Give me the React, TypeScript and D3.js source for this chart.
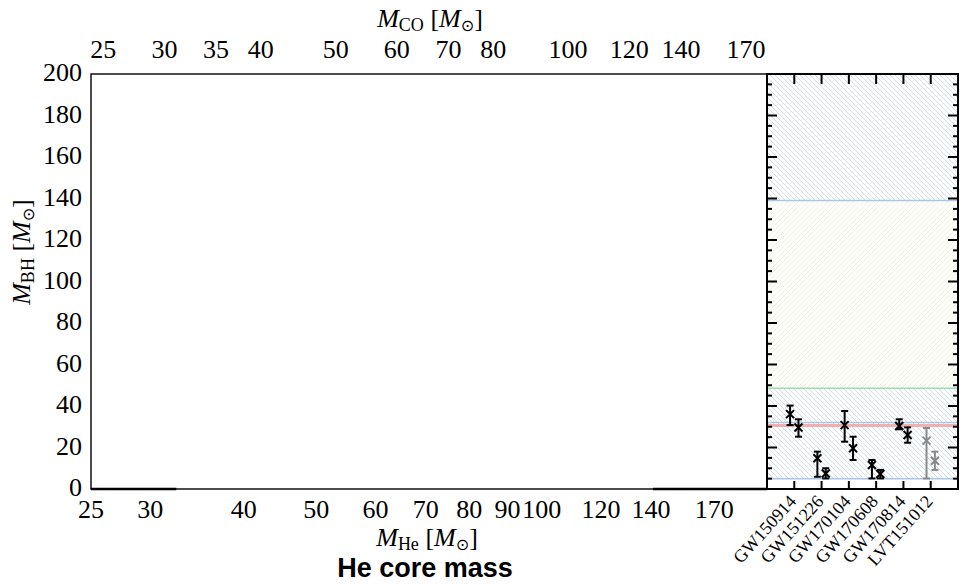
import React from "react";
import * as d3 from "d3";

const heTicks = [25, 30, 40, 50, 60, 70, 80, 90, 100, 120, 140, 170];
const coTicks = [25, 30, 35, 40, 50, 60, 70, 80, 100, 120, 140, 170];
const yTicks = [0, 20, 40, 60, 80, 100, 120, 140, 160, 180, 200];
const yMinor = d3.range(0, 201, 5);

const events = ["GW150914", "GW151226", "GW170104", "GW170608", "GW170814", "LVT151012"];
const m1 = [36.1, 14.8, 30.8, 11.6, 30.4, 23.3];
const m1Hi = [40.2, 18.0, 37.6, 14.0, 33.6, 29.4];
const m1Lo = [30.8, 5.9, 22.8, 5.1, 28.8, 5.1];
const m2 = [29.6, 7.5, 19.6, 7.2, 26.0, 13.6];
const m2Hi = [33.6, 10.0, 25.2, 9.2, 29.7, 18.0];
const m2Lo = [25.2, 5.1, 14.0, 5.1, 22.3, 9.2];
const eventColor = ["#000", "#000", "#000", "#000", "#000", "#8a8a8a"];

// horizontal limit lines in the event panel
const limitValues = [139, 48.5, 32, 30.6, 5];
const limitColors = ["#a9c6e8", "#9ddcab", "#a9c6e8", "#f4aeae", "#a9c6e8"];
const limitWidths = [1.5, 1.5, 1.5, 3, 1.5];

// hatched bands [low, high]
const bandLo = [139, 48.5, 5];
const bandHi = [200, 139, 48.5];
const bandPattern = ["hatchBlue", "hatchYellow", "hatchBlue"];

// zero-mass segments in main panel (M_He ranges)
const zeroSegs = [[25, 32.5], [140.8, 200]];

const serif = "'Liberation Serif', 'Times New Roman', serif";

function MathLabel({ sub }: { sub: string }) {
  return (
    <>
      <tspan fontStyle="italic">M</tspan>
      <tspan fontSize={18} dy={4}>{sub}</tspan>
      <tspan dy={-4}> [</tspan>
      <tspan fontStyle="italic">M</tspan>
      <tspan fontSize={16} dy={4} fontFamily="'DejaVu Sans', sans-serif">⊙</tspan>
      <tspan dy={-4}>]</tspan>
    </>
  );
}

export default function App() {
  const L = 91, R = 767, T = 74, B = 489, R2 = 958;
  const xHe = d3.scaleLog().domain([25, 200]).range([L, R]);
  const xCO = d3.scaleLog().domain([24.1, 181]).range([L, R]);
  const y = d3.scaleLinear().domain([0, 200]).range([B, T]);
  const xEv = d3.scaleLinear().domain([0, 7]).range([R, R2]);
  const off = 4.2 / (xEv(1) - xEv(0));

  const marks: any[] = [];
  events.forEach((e, i) => {
    const pts = [
      { x: xEv(i + 1 - off), v: m1[i], hi: m1Hi[i], lo: m1Lo[i] },
      { x: xEv(i + 1 + off), v: m2[i], hi: m2Hi[i], lo: m2Lo[i] },
    ];
    pts.forEach((p, j) => {
      const c = eventColor[i];
      const yv = y(p.v);
      marks.push(
        <g key={`${i}-${j}`} stroke={c} strokeWidth={2}>
          <line x1={p.x} x2={p.x} y1={y(p.hi)} y2={y(p.lo)} />
          <line x1={p.x - 3.5} x2={p.x + 3.5} y1={y(p.hi)} y2={y(p.hi)} />
          <line x1={p.x - 3.5} x2={p.x + 3.5} y1={y(p.lo)} y2={y(p.lo)} />
          <line x1={p.x - 4} x2={p.x + 4} y1={yv - 4} y2={yv + 4} />
          <line x1={p.x - 4} x2={p.x + 4} y1={yv + 4} y2={yv - 4} />
        </g>
      );
    });
  });

  return (
    <svg width={965} height={585} style={{ position: "absolute", left: 0, top: 0, background: "#fff" }}>
      <defs>
        <pattern id="hatchBlue" patternUnits="userSpaceOnUse" width={5} height={5}>
          <path d="M0,0 L5,5 M-1,4 L1,6 M4,-1 L6,1" stroke="#c9daf0" strokeWidth={0.9} />
        </pattern>
        <pattern id="hatchYellow" patternUnits="userSpaceOnUse" width={5} height={5}>
          <path d="M0,5 L5,0 M-1,1 L1,-1 M4,6 L6,4" stroke="#edf0d0" strokeWidth={0.9} />
        </pattern>
      </defs>

      {/* event panel bands */}
      {bandLo.map((lo, i) => (
        <rect key={i} x={R} width={R2 - R} y={y(bandHi[i])} height={y(lo) - y(bandHi[i])} fill={`url(#${bandPattern[i]})`} />
      ))}
      {limitValues.map((v, i) => (
        <line key={i} x1={R} x2={R2} y1={y(v)} y2={y(v)} stroke={limitColors[i]} strokeWidth={limitWidths[i]} />
      ))}
      {marks}

      {/* main panel zero segments */}
      {zeroSegs.map((s, i) => (
        <line key={i} x1={xHe(s[0])} x2={xHe(s[1])} y1={B} y2={B} stroke="#000" strokeWidth={2.3} />
      ))}

      {/* main panel frame */}
      <rect x={L} y={T} width={R - L} height={B - T} fill="none" stroke="#000" strokeWidth={1.4} />

      {/* event panel frame and ticks */}
      <rect x={R} y={T} width={R2 - R} height={B - T} fill="none" stroke="#000" strokeWidth={2} />
      {yMinor.map((v) => {
        const len = v % 20 === 0 ? 10 : 5;
        return (
          <g key={v} stroke="#000" strokeWidth={2}>
            <line x1={R} x2={R + len} y1={y(v)} y2={y(v)} />
            <line x1={R2} x2={R2 - len} y1={y(v)} y2={y(v)} />
          </g>
        );
      })}
      {events.map((e, i) => (
        <g key={e} stroke="#000" strokeWidth={2}>
          <line x1={xEv(i + 1)} x2={xEv(i + 1)} y1={T} y2={T + 10} />
          <line x1={xEv(i + 1)} x2={xEv(i + 1)} y1={B} y2={B - 8} />
        </g>
      ))}
      {events.map((e, i) => (
        <text key={e} transform={`translate(${xEv(i + 1) + 3},${B + 13}) rotate(-48)`} textAnchor="end" fontFamily={serif} fontSize={18} fill="#000">
          {e}
        </text>
      ))}

      {/* y tick labels */}
      {yTicks.map((v) => (
        <text key={v} x={82} y={y(v) + 7} textAnchor="end" fontFamily={serif} fontSize={26} fill="#000">
          {v}
        </text>
      ))}
      {/* bottom tick labels */}
      {heTicks.map((v) => (
        <text key={v} x={xHe(v)} y={518} textAnchor="middle" fontFamily={serif} fontSize={26} fill="#000">
          {v}
        </text>
      ))}
      {/* top tick labels */}
      {coTicks.map((v) => (
        <text key={v} x={xCO(v)} y={58} textAnchor="middle" fontFamily={serif} fontSize={26} fill="#000">
          {v}
        </text>
      ))}

      {/* axis labels */}
      <text x={430} y={27} textAnchor="middle" fontFamily={serif} fontSize={26} fill="#000">
        <MathLabel sub="CO" />
      </text>
      <text x={427} y={546} textAnchor="middle" fontFamily={serif} fontSize={26} fill="#000">
        <MathLabel sub="He" />
      </text>
      <text transform="translate(30,252) rotate(-90)" textAnchor="middle" fontFamily={serif} fontSize={26} fill="#000">
        <MathLabel sub="BH" />
      </text>
      <text x={425} y={577} textAnchor="middle" fontFamily="'Liberation Sans', Arial, sans-serif" fontWeight="bold" fontSize={27} fill="#000">
        He core mass
      </text>
    </svg>
  );
}
